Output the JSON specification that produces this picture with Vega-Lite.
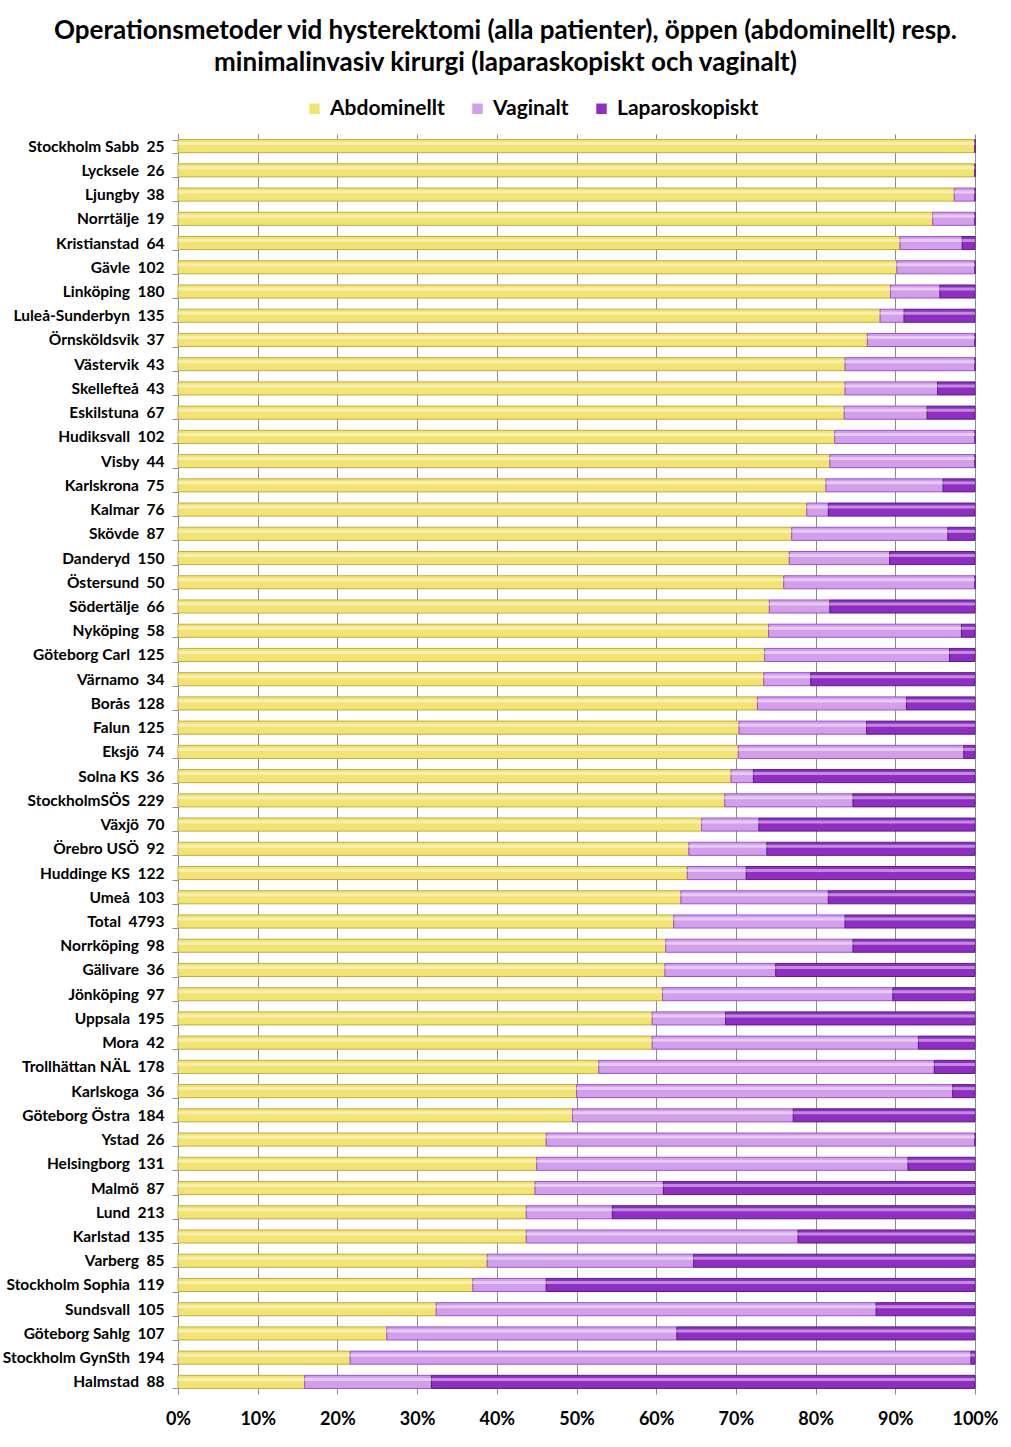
{
  "$schema": "https://vega.github.io/schema/vega-lite/v6.json",
  "width": 797,
  "height": 1260,
  "autosize": {"type": "none"},
  "padding": {"left": 178, "top": 134, "right": 36, "bottom": 53},
  "background": "white",
  "title": {
    "text": ["Operationsmetoder vid hysterektomi (alla patienter), öppen (abdominellt) resp.", "minimalinvasiv kirurgi (laparaskopiskt och vaginalt)"],
    "font": "Lato",
    "fontSize": 26,
    "fontWeight": "bold",
    "color": "#000000",
    "anchor": "middle",
    "dx": -71,
    "offset": 22,
    "lineHeight": 32,
    "baseline": "top"
  },
  "config": {
    "view": {"stroke": null},
    "font": "Lato"
  },
  "data": {
    "values": [
      {"sjukhus": "Stockholm Sabb\u00a0 25", "Abdominellt": 100, "Vaginalt": 0, "Laparoskopiskt": 0},
      {"sjukhus": "Lycksele\u00a0 26", "Abdominellt": 100, "Vaginalt": 0, "Laparoskopiskt": 0},
      {"sjukhus": "Ljungby\u00a0 38", "Abdominellt": 97.4, "Vaginalt": 2.6, "Laparoskopiskt": 0},
      {"sjukhus": "Norrtälje\u00a0 19", "Abdominellt": 94.7, "Vaginalt": 5.3, "Laparoskopiskt": 0},
      {"sjukhus": "Kristianstad\u00a0 64", "Abdominellt": 90.6, "Vaginalt": 7.8, "Laparoskopiskt": 1.6},
      {"sjukhus": "Gävle\u00a0 102", "Abdominellt": 90.2, "Vaginalt": 9.8, "Laparoskopiskt": 0},
      {"sjukhus": "Linköping\u00a0 180", "Abdominellt": 89.4, "Vaginalt": 6.2, "Laparoskopiskt": 4.4},
      {"sjukhus": "Luleå-Sunderbyn\u00a0 135", "Abdominellt": 88.1, "Vaginalt": 3.0, "Laparoskopiskt": 8.9},
      {"sjukhus": "Örnsköldsvik\u00a0 37", "Abdominellt": 86.5, "Vaginalt": 13.5, "Laparoskopiskt": 0},
      {"sjukhus": "Västervik\u00a0 43", "Abdominellt": 83.7, "Vaginalt": 16.3, "Laparoskopiskt": 0},
      {"sjukhus": "Skellefteå\u00a0 43", "Abdominellt": 83.7, "Vaginalt": 11.6, "Laparoskopiskt": 4.7},
      {"sjukhus": "Eskilstuna\u00a0 67", "Abdominellt": 83.6, "Vaginalt": 10.4, "Laparoskopiskt": 6.0},
      {"sjukhus": "Hudiksvall\u00a0 102", "Abdominellt": 82.4, "Vaginalt": 17.6, "Laparoskopiskt": 0},
      {"sjukhus": "Visby\u00a0 44", "Abdominellt": 81.8, "Vaginalt": 18.2, "Laparoskopiskt": 0},
      {"sjukhus": "Karlskrona\u00a0 75", "Abdominellt": 81.3, "Vaginalt": 14.7, "Laparoskopiskt": 4.0},
      {"sjukhus": "Kalmar\u00a0 76", "Abdominellt": 78.9, "Vaginalt": 2.7, "Laparoskopiskt": 18.4},
      {"sjukhus": "Skövde\u00a0 87", "Abdominellt": 77.0, "Vaginalt": 19.6, "Laparoskopiskt": 3.4},
      {"sjukhus": "Danderyd\u00a0 150", "Abdominellt": 76.7, "Vaginalt": 12.6, "Laparoskopiskt": 10.7},
      {"sjukhus": "Östersund\u00a0 50", "Abdominellt": 76.0, "Vaginalt": 24.0, "Laparoskopiskt": 0},
      {"sjukhus": "Södertälje\u00a0 66", "Abdominellt": 74.2, "Vaginalt": 7.6, "Laparoskopiskt": 18.2},
      {"sjukhus": "Nyköping\u00a0 58", "Abdominellt": 74.1, "Vaginalt": 24.2, "Laparoskopiskt": 1.7},
      {"sjukhus": "Göteborg Carl\u00a0 125", "Abdominellt": 73.6, "Vaginalt": 23.2, "Laparoskopiskt": 3.2},
      {"sjukhus": "Värnamo\u00a0 34", "Abdominellt": 73.5, "Vaginalt": 5.9, "Laparoskopiskt": 20.6},
      {"sjukhus": "Borås\u00a0 128", "Abdominellt": 72.7, "Vaginalt": 18.7, "Laparoskopiskt": 8.6},
      {"sjukhus": "Falun\u00a0 125", "Abdominellt": 70.4, "Vaginalt": 16.0, "Laparoskopiskt": 13.6},
      {"sjukhus": "Eksjö\u00a0 74", "Abdominellt": 70.3, "Vaginalt": 28.3, "Laparoskopiskt": 1.4},
      {"sjukhus": "Solna KS\u00a0 36", "Abdominellt": 69.4, "Vaginalt": 2.8, "Laparoskopiskt": 27.8},
      {"sjukhus": "StockholmSÖS\u00a0 229", "Abdominellt": 68.6, "Vaginalt": 16.1, "Laparoskopiskt": 15.3},
      {"sjukhus": "Växjö\u00a0 70", "Abdominellt": 65.7, "Vaginalt": 7.2, "Laparoskopiskt": 27.1},
      {"sjukhus": "Örebro USÖ\u00a0 92", "Abdominellt": 64.1, "Vaginalt": 9.8, "Laparoskopiskt": 26.1},
      {"sjukhus": "Huddinge KS\u00a0 122", "Abdominellt": 63.9, "Vaginalt": 7.4, "Laparoskopiskt": 28.7},
      {"sjukhus": "Umeå\u00a0 103", "Abdominellt": 63.1, "Vaginalt": 18.5, "Laparoskopiskt": 18.4},
      {"sjukhus": "Total\u00a0 4793", "Abdominellt": 62.2, "Vaginalt": 21.5, "Laparoskopiskt": 16.3},
      {"sjukhus": "Norrköping\u00a0 98", "Abdominellt": 61.2, "Vaginalt": 23.5, "Laparoskopiskt": 15.3},
      {"sjukhus": "Gälivare\u00a0 36", "Abdominellt": 61.1, "Vaginalt": 13.9, "Laparoskopiskt": 25.0},
      {"sjukhus": "Jönköping\u00a0 97", "Abdominellt": 60.8, "Vaginalt": 28.9, "Laparoskopiskt": 10.3},
      {"sjukhus": "Uppsala\u00a0 195", "Abdominellt": 59.5, "Vaginalt": 9.2, "Laparoskopiskt": 31.3},
      {"sjukhus": "Mora\u00a0 42", "Abdominellt": 59.5, "Vaginalt": 33.4, "Laparoskopiskt": 7.1},
      {"sjukhus": "Trollhättan NÄL\u00a0 178", "Abdominellt": 52.8, "Vaginalt": 42.1, "Laparoskopiskt": 5.1},
      {"sjukhus": "Karlskoga\u00a0 36", "Abdominellt": 50.0, "Vaginalt": 47.2, "Laparoskopiskt": 2.8},
      {"sjukhus": "Göteborg Östra\u00a0 184", "Abdominellt": 49.5, "Vaginalt": 27.7, "Laparoskopiskt": 22.8},
      {"sjukhus": "Ystad\u00a0 26", "Abdominellt": 46.2, "Vaginalt": 53.8, "Laparoskopiskt": 0},
      {"sjukhus": "Helsingborg\u00a0 131", "Abdominellt": 45.0, "Vaginalt": 46.6, "Laparoskopiskt": 8.4},
      {"sjukhus": "Malmö\u00a0 87", "Abdominellt": 44.8, "Vaginalt": 16.1, "Laparoskopiskt": 39.1},
      {"sjukhus": "Lund\u00a0 213", "Abdominellt": 43.7, "Vaginalt": 10.8, "Laparoskopiskt": 45.5},
      {"sjukhus": "Karlstad\u00a0 135", "Abdominellt": 43.7, "Vaginalt": 34.1, "Laparoskopiskt": 22.2},
      {"sjukhus": "Varberg\u00a0 85", "Abdominellt": 38.8, "Vaginalt": 25.9, "Laparoskopiskt": 35.3},
      {"sjukhus": "Stockholm Sophia\u00a0 119", "Abdominellt": 37.0, "Vaginalt": 9.2, "Laparoskopiskt": 53.8},
      {"sjukhus": "Sundsvall\u00a0 105", "Abdominellt": 32.4, "Vaginalt": 55.2, "Laparoskopiskt": 12.4},
      {"sjukhus": "Göteborg Sahlg\u00a0 107", "Abdominellt": 26.2, "Vaginalt": 36.4, "Laparoskopiskt": 37.4},
      {"sjukhus": "Stockholm GynSth\u00a0 194", "Abdominellt": 21.6, "Vaginalt": 77.9, "Laparoskopiskt": 0.5},
      {"sjukhus": "Halmstad\u00a0 88", "Abdominellt": 15.9, "Vaginalt": 15.9, "Laparoskopiskt": 68.2}
    ]
  },
  "transform": [
    {"fold": ["Abdominellt", "Vaginalt", "Laparoskopiskt"], "as": ["metod", "andel"]},
    {"calculate": "indexof(['Abdominellt','Vaginalt','Laparoskopiskt'], datum.metod)", "as": "ordning"}
  ],
  "encoding": {
    "y": {
      "field": "sjukhus",
      "type": "nominal",
      "sort": null,
      "scale": {"paddingInner": 0.46, "paddingOuter": 0.23},
      "axis": {
        "title": null,
        "labelFont": "Lato",
        "labelFontSize": 15.5,
        "labelFontWeight": "bold",
        "labelColor": "#000000",
        "labelPadding": 8,
        "tickBand": "extent",
        "tickSize": 6,
        "tickColor": "#8c8c8c",
        "domainColor": "#8c8c8c",
        "grid": false
      }
    },
    "x": {
      "field": "andel",
      "type": "quantitative",
      "stack": "normalize",
      "scale": {"domain": [0, 1]},
      "axis": {
        "title": null,
        "format": ".0%",
        "values": [0, 0.1, 0.2, 0.3, 0.4, 0.5, 0.6, 0.7, 0.8, 0.9, 1],
        "labelFont": "Lato",
        "labelFontSize": 18,
        "labelFontWeight": "bold",
        "labelColor": "#000000",
        "labelPadding": 16,
        "labelFlush": false,
        "ticks": false,
        "domain": false,
        "grid": true,
        "gridColor": "#8c8c8c",
        "gridWidth": 1
      }
    },
    "order": {"field": "ordning", "type": "quantitative"}
  },
  "layer": [
    {
      "mark": {"type": "bar", "strokeWidth": 1},
      "encoding": {
        "color": {
          "field": "metod",
          "type": "nominal",
          "scale": {
            "domain": ["Abdominellt", "Vaginalt", "Laparoskopiskt"],
            "range": ["#F2E474", "#D2A0EA", "#8E2FC2"]
          },
          "legend": {
            "title": null,
            "orient": "none",
            "direction": "horizontal",
            "legendX": 126,
            "legendY": -36,
            "symbolType": "square",
            "symbolSize": 110,
            "symbolStrokeWidth": 0,
            "labelFont": "Lato",
            "labelFontSize": 21,
            "labelFontWeight": "bold",
            "labelColor": "#000000",
            "labelOffset": 5,
            "columnPadding": 22
          }
        },
        "stroke": {
          "field": "metod",
          "type": "nominal",
          "scale": {
            "domain": ["Abdominellt", "Vaginalt", "Laparoskopiskt"],
            "range": ["#C4AC3A", "#A04FCB", "#5E1A86"]
          },
          "legend": null
        }
      }
    },
    {
      "mark": {"type": "bar", "color": "#ffffff", "opacity": 0.45, "height": 3, "yOffset": -2.5, "strokeWidth": 0},
      "encoding": {
        "detail": {"field": "metod", "type": "nominal"}
      }
    }
  ]
}
